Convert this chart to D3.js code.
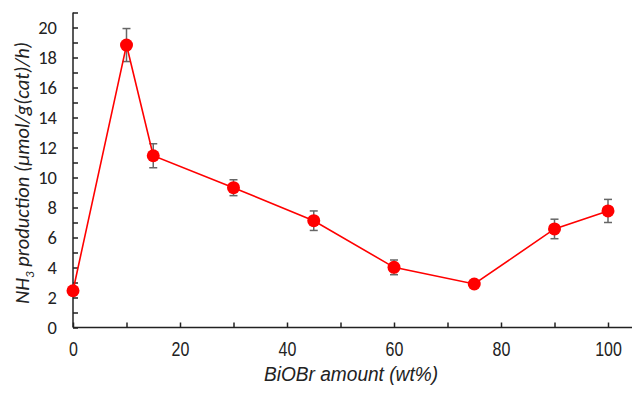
<!DOCTYPE html>
<html>
<head>
<meta charset="utf-8">
<script src="https://cdn.jsdelivr.net/npm/d3@7"></script>
<style>
  body { margin: 0; background: #fff; }
  svg { display: block; }
</style>
</head>
<body>
<div id="chart"></div>
<script>
const amounts = [0, 10, 15, 30, 45, 60, 75, 90, 100]
const production = [2.45, 18.83, 11.45, 9.32, 7.12, 4.01, 2.9, 6.57, 7.77]
const errors = [0.1, 1.1, 0.8, 0.53, 0.65, 0.49, 0.15, 0.65, 0.77]
const xTicks = [0, 20, 40, 60, 80, 100]
const yTicks = [0, 2, 4, 6, 8, 10, 12, 14, 16, 18, 20]

const width = 632
const height = 393
const margin = { top: 12.5, right: 0, bottom: 65.5, left: 73 }

const svg = d3.select("#chart")
    .append("svg")
    .attr("width", width)
    .attr("height", height)

const xScale = d3.scaleLinear()
    .domain([0, 100])
    .range([margin.left, 608])

const yScale = d3.scaleLinear()
    .domain([0, 21])
    .range([height - margin.bottom, margin.top])

// no Arial Narrow here, so squeeze Liberation Sans horizontally
const sans = "'Liberation Sans', Arial, sans-serif"
const calibri = "Carlito, Calibri, 'Open Sans', 'Noto Sans', sans-serif"
const squeeze = 0.82

// x axis: minor ticks every 10, labels every 20, ticks point inward
const xAxis = d3.axisBottom(xScale)
    .tickValues(d3.range(0, 110, 10))
    .tickSize(-5)
    .tickFormat(d => xTicks.includes(d) ? d : "")
const gx = svg.append("g")
    .attr("transform", `translate(0,${yScale(0)})`)
    .call(xAxis)
gx.select(".domain").attr("d", `M${xScale(0)},0H${width}`)
gx.selectAll("line, path").attr("stroke", "#222").attr("stroke-width", 1.5)
gx.selectAll("text")
    .attr("y", 15)
    .attr("dy", "0.71em")
    .attr("transform", `scale(${squeeze},1)`)
    .style("font-family", sans)
    .style("font-size", "19.5px")
    .attr("fill", "#222")

// y axis: minor ticks every 1, labels every 2
const yAxis = d3.axisLeft(yScale)
    .tickValues(d3.range(0, 22, 1))
    .tickSize(-5)
    .tickFormat(d => yTicks.includes(d) ? d : "")
const gy = svg.append("g")
    .attr("transform", `translate(${xScale(0)},0)`)
    .call(yAxis)
gy.select(".domain").attr("d", `M0,${yScale(0)}V${yScale(21)}`)
gy.selectAll("line, path").attr("stroke", "#222").attr("stroke-width", 1.5)
gy.selectAll("text")
    .attr("x", -16)
    .style("font-family", calibri)
    .style("font-size", "18.5px")
    .attr("fill", "#222")

// error bars
const errGroup = svg.append("g")
amounts.forEach((a, i) => {
    const x = xScale(a)
    const top = yScale(production[i] + errors[i])
    const bot = yScale(production[i] - errors[i])
    errGroup.append("line").attr("x1", x).attr("x2", x).attr("y1", top).attr("y2", bot)
    errGroup.append("line").attr("x1", x - 4).attr("x2", x + 4).attr("y1", top).attr("y2", top)
    errGroup.append("line").attr("x1", x - 4).attr("x2", x + 4).attr("y1", bot).attr("y2", bot)
})
errGroup.selectAll("line").attr("stroke", "#666").attr("stroke-width", 1.5)

const line = d3.line()
    .x((d, i) => xScale(amounts[i]))
    .y(d => yScale(d))

svg.append("path")
    .datum(production)
    .attr("fill", "none")
    .attr("stroke", "#ff0000")
    .attr("stroke-width", 1.6)
    .attr("d", line)

svg.append("g")
    .selectAll("circle")
    .data(production)
    .join("circle")
    .attr("cx", (d, i) => xScale(amounts[i]))
    .attr("cy", d => yScale(d))
    .attr("r", 6.5)
    .attr("fill", "#ff0000")

// axis titles
svg.append("text")
    .attr("transform", `translate(351,381) scale(0.98,1)`)
    .attr("text-anchor", "middle")
    .style("font-family", sans)
    .style("font-size", "19.5px")
    .style("font-style", "italic")
    .attr("fill", "#222")
    .text("BiOBr amount (wt%)")

const yTitle = svg.append("text")
    .attr("transform", `translate(29,${yScale(10.3)}) rotate(-90)`)
    .attr("text-anchor", "middle")
    .style("font-family", calibri)
    .style("font-size", "20.5px")
    .style("font-style", "italic")
    .attr("fill", "#222")
yTitle.append("tspan").text("NH")
yTitle.append("tspan").attr("dy", 5).style("font-size", "13px").text("3")
yTitle.append("tspan").attr("dy", -5).text(" production (μmol/g(cat)/h)")
</script>
</body>
</html>
